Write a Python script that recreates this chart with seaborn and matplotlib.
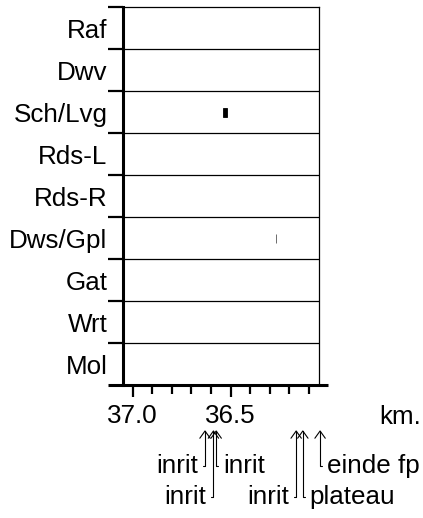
import matplotlib
matplotlib.use("Agg")
import matplotlib.pyplot as plt
import seaborn as sns
import numpy as np

# rows of the chart, top to bottom
rows = ["Raf", "Dwv", "Sch/Lvg", "Rds-L", "Rds-R", "Dws/Gpl", "Gat", "Wrt", "Mol"]

# marks: row, start km, end km, colour
mark_rows = ["Sch/Lvg", "Dws/Gpl"]
mark_start = [36.537, 36.2695]
mark_end = [36.517, 36.2665]
mark_colors = ["black", "#555555"]

# x axis ticks
major_ticks = [37.0, 36.5]
major_labels = ["37.0", "36.5"]
minor_ticks = [36.9, 36.8, 36.7, 36.6, 36.4, 36.3, 36.2, 36.1]

# points below the axis
ann_labels = ["inrit", "inrit", "inrit", "inrit", "plateau", "einde fp"]
ann_km = [36.631, 36.588, 36.574, 36.166, 36.132, 36.044]
ann_side = ["left", "left", "right", "left", "right", "right"]
ann_level = ["top", "bottom", "top", "bottom", "bottom", "top"]

sns.set_style("white")
plt.rcParams["font.family"] = ["Liberation Sans", "DejaVu Sans"]
plt.rcParams["text.color"] = "black"
plt.rcParams["xtick.color"] = "black"
plt.rcParams["ytick.color"] = "black"
FS = 18.7

fig = plt.figure(figsize=(4.23, 5.18), dpi=100)
ax = fig.add_axes([0.2905, 0.2558, 0.4634, 0.7307])

ypos = {r: i for i, r in enumerate(rows)}
for r, s, e, c in zip(mark_rows, mark_start, mark_end, mark_colors):
    ax.barh(ypos[r], e - s, left=s, height=0.22, color=c, edgecolor=c, linewidth=0.6)

ax.set_xlim(37.05, 36.05)
ax.set_ylim(len(rows) - 0.5, -0.5)

# row separators
for b in np.arange(0.5, len(rows) - 0.5, 1):
    ax.axhline(b, color="black", lw=0.9)

ax.set_yticks(range(len(rows)))
ax.set_yticklabels(rows, fontsize=FS)
ax.set_yticks(np.arange(-0.5, len(rows) - 0.5, 1), minor=True)
ax.tick_params(axis="y", which="major", length=0, pad=11)
ax.tick_params(axis="y", which="minor", length=10.8, width=1.6, direction="out")

ax.set_xticks(major_ticks)
ax.set_xticklabels(major_labels, fontsize=FS)
ax.set_xticks(minor_ticks, minor=True)
ax.tick_params(axis="x", which="major", length=8.6, width=1.6, direction="out", pad=4.5)
ax.tick_params(axis="x", which="minor", length=6.5, width=1.6, direction="out")
ax.xaxis.set_ticks_position("bottom")
ax.yaxis.set_ticks_position("left")

for side in ["top", "right"]:
    ax.spines[side].set_linewidth(0.9)
    ax.spines[side].set_color("black")
ax.spines["left"].set_linewidth(2.2)
ax.spines["left"].set_color("black")
ax.spines["bottom"].set_visible(False)
# long bottom axis line
ax.plot([-0.077, 1.047], [0, 0], transform=ax.transAxes, color="black",
        lw=2.2, clip_on=False, solid_capstyle="butt")

fig.text(421 / 423, 1 - 405 / 518, "km.", fontsize=FS, ha="right", va="top")

tip_y = -0.1176
for lab, km, side, lev in zip(ann_labels, ann_km, ann_side, ann_level):
    dx = -5 if side == "left" else 5
    dy = -26 if lev == "top" else -48
    ax.annotate(lab, xy=(km, tip_y), xycoords=("data", "axes fraction"),
                xytext=(dx, dy), textcoords="offset points",
                ha="right" if side == "left" else "left", va="center",
                fontsize=FS, annotation_clip=False,
                arrowprops=dict(arrowstyle="->,head_length=0.28,head_width=0.2",
                                connectionstyle="angle,angleA=0,angleB=90,rad=0",
                                relpos=(1, 0.5) if side == "left" else (0, 0.5),
                                shrinkA=1, shrinkB=0, lw=0.8, color="black"))

fig.savefig("out.png", dpi=100)
